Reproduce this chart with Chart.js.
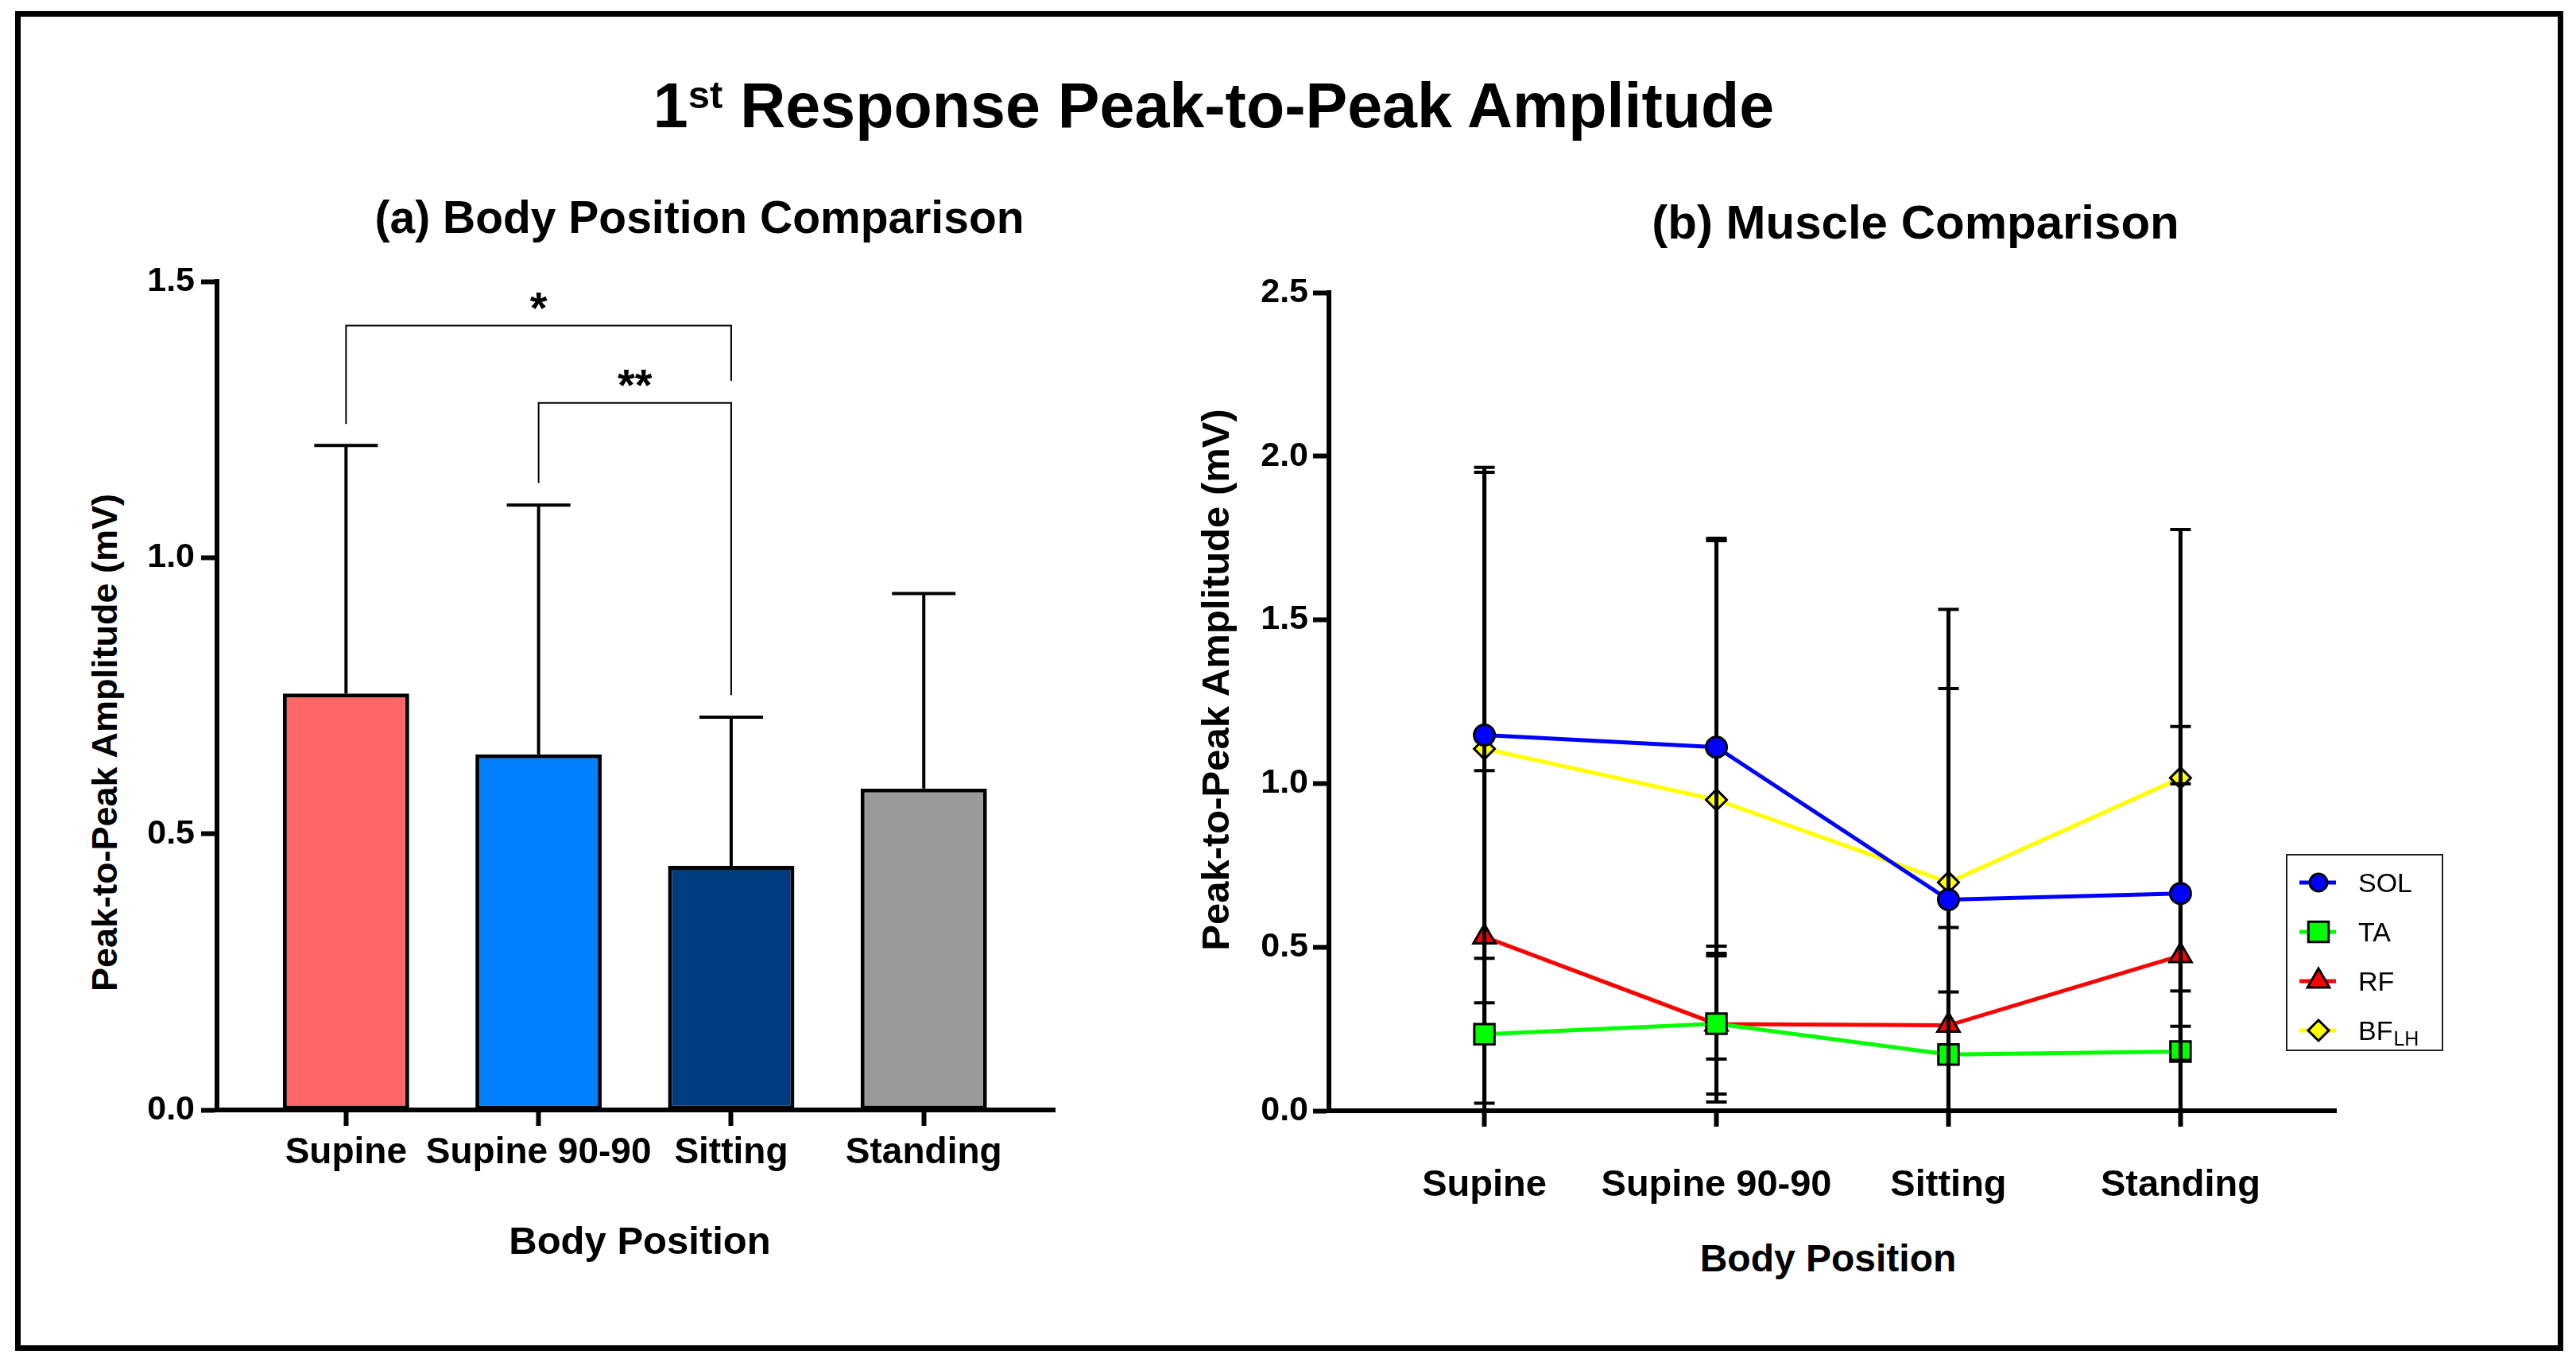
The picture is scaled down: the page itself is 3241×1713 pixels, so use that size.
<!DOCTYPE html>
<html>
<head>
<meta charset="utf-8">
<title>1st Response Peak-to-Peak Amplitude</title>
<script src="https://cdn.jsdelivr.net/npm/chart.js@4.4.1/dist/chart.umd.min.js"></script>
<style>
  html, body { margin: 0; padding: 0; background: #fff; }
  body { width: 3241px; height: 1713px; position: relative; overflow: hidden;
         font-family: "Liberation Sans", Arial, Helvetica, sans-serif; color: #000; }
  .frame { position: absolute; left: 19px; top: 14px; width: 3206px; height: 1685px;
           border: 7px solid #000; box-sizing: border-box; }
  .txt { position: absolute; line-height: 1; white-space: nowrap; font-weight: bold;
         transform: translateX(-50%); }
  .rot { position: absolute; line-height: 1; white-space: nowrap; font-weight: bold;
         transform: translate(-50%, -50%) rotate(-90deg); }
  .txt sup { font-size: 0.62em; position: relative; top: -0.5em; vertical-align: baseline; line-height: 0; }
  .panel { position: absolute; top: 0; height: 1713px; }
</style>
</head>
<body>
<div class="frame"></div>

<div class="txt" style="left:1527px; top:93px; font-size:79px">1<sup>st</sup> Response Peak-to-Peak Amplitude</div>
<div class="txt" style="left:880px; top:245px; font-size:57px">(a) Body Position Comparison</div>
<div class="txt" style="left:2410px; top:250px; font-size:60px">(b) Muscle Comparison</div>

<div class="rot" style="left:131px; top:934px; font-size:45px">Peak-to-Peak Amplitude (mV)</div>
<div class="rot" style="left:1529px; top:855px; font-size:49px">Peak-to-Peak Amplitude (mV)</div>
<div class="txt" style="left:805px; top:1536px; font-size:49px">Body Position</div>
<div class="txt" style="left:2300px; top:1559px; font-size:48px">Body Position</div>

<div class="panel" style="left:0; width:1500px"><canvas id="chart-a"></canvas></div>
<div class="panel" style="left:1500px; width:1741px"><canvas id="chart-b"></canvas></div>

<script>
(function () {
  'use strict';

  // ------------------------------------------------------------- data ----
  const CATEGORIES = ['Supine', 'Supine 90-90', 'Sitting', 'Standing'];

  // (a) mean ± SD per body position, all muscles pooled
  const POSITION_MEAN = [0.754, 0.644, 0.442, 0.582];
  const POSITION_SD = [0.449, 0.451, 0.269, 0.353];
  const Y_TICKS_A = [0, 0.5, 1.0, 1.5];

  // significance brackets: category indices, bar height, leg ends (mV)
  const SIG_FROM = [0, 1];
  const SIG_TO = [2, 2];
  const SIG_LEVEL = [1.42, 1.28];
  const SIG_LEFT_END = [1.242, 1.135];
  const SIG_RIGHT_END = [1.32, 0.751];
  const SIG_LABEL = ['*', '**'];

  // (b) mean ± SD per muscle
  const SOL_MEAN = [1.148, 1.111, 0.645, 0.664];
  const SOL_SD = [0.818, 0.638, 0.645, 0.510];
  const TA_MEAN = [0.234, 0.266, 0.172, 0.181];
  const TA_SD = [0.232, 0.215, 0.191, 0.185];
  const RF_MEAN = [0.531, 0.265, 0.261, 0.474];
  const RF_SD = [0.508, 0.238, 0.299, 0.525];
  const BF_MEAN = [1.106, 0.950, 0.698, 1.017];
  const BF_SD = [0.845, 0.792, 0.834, 0.759];
  const Y_TICKS_B = [0, 0.5, 1.0, 1.5, 2.0, 2.5];

  // ----------------------------------------------------------- styles ----
  const FONT = '"Liberation Sans", Arial, Helvetica, sans-serif';
  const BAR_COLORS = ['#FF6666', '#0080FF', '#003D80', '#999999'];

  const SERIES = [
    { label: 'SOL', sub: '', mean: SOL_MEAN, sd: SOL_SD, color: '#0000FF', style: 'circle', r: 13, lr: 11 },
    { label: 'TA', sub: '', mean: TA_MEAN, sd: TA_SD, color: '#00FF00', style: 'rect', r: 18, lr: 18 },
    { label: 'RF', sub: '', mean: RF_MEAN, sd: RF_SD, color: '#FF0000', style: 'triangle', r: 16, lr: 16 },
    { label: 'BF', sub: 'LH', mean: BF_MEAN, sd: BF_SD, color: '#FFFF00', style: 'rectRot', r: 13, lr: 13 },
  ];

  Chart.defaults.font.family = FONT;
  Chart.defaults.color = '#000';

  const points = arr => arr.map((y, i) => ({ x: i, y }));

  function axes(opts) {
    return {
      x: {
        type: 'linear', min: -0.67, max: opts.xMax, offset: false,
        afterBuildTicks: s => { s.ticks = CATEGORIES.map((_, i) => ({ value: i })); },
        afterFit: s => { s.height = 150; },
        border: { color: '#000', width: 6 },
        grid: { offset: false, drawOnChartArea: false, tickLength: 20, tickWidth: 6, tickColor: '#000' },
        ticks: {
          autoSkip: false, maxRotation: 0, padding: opts.xPad,
          font: { size: opts.xFont, weight: 'bold' },
          callback: v => CATEGORIES[v],
        },
      },
      y: {
        min: 0, max: opts.yTicks[opts.yTicks.length - 1],
        afterBuildTicks: s => { s.ticks = opts.yTicks.map(v => ({ value: v })); },
        afterFit: s => { s.width = opts.yWidth; },
        border: { color: '#000', width: 6 },
        grid: { drawOnChartArea: false, tickLength: 20, tickWidth: 6, tickColor: '#000' },
        ticks: {
          padding: opts.yPad, font: { size: 43, weight: 'bold' },
          callback: v => Number(v).toFixed(1),
        },
      },
    };
  }

  // -------------------------------------------------- (a) bar chart ----
  const barExtras = {
    id: 'barExtras',
    afterDatasetsDraw(chart) {
      const { ctx, scales: { x, y } } = chart;
      ctx.save();
      ctx.strokeStyle = '#000';
      ctx.lineWidth = 4;
      POSITION_MEAN.forEach((m, i) => {
        const px = x.getPixelForValue(i);
        const top = y.getPixelForValue(m + POSITION_SD[i]);
        ctx.beginPath();
        ctx.moveTo(px, y.getPixelForValue(m));
        ctx.lineTo(px, top);
        ctx.moveTo(px - 40, top);
        ctx.lineTo(px + 40, top);
        ctx.stroke();
      });
      ctx.lineWidth = 2;
      ctx.fillStyle = '#000';
      ctx.font = `bold 56px ${FONT}`;
      ctx.textAlign = 'center';
      ctx.textBaseline = 'alphabetic';
      SIG_LABEL.forEach((label, i) => {
        const x1 = x.getPixelForValue(SIG_FROM[i]);
        const x2 = x.getPixelForValue(SIG_TO[i]);
        const yl = y.getPixelForValue(SIG_LEVEL[i]);
        ctx.beginPath();
        ctx.moveTo(x1, y.getPixelForValue(SIG_LEFT_END[i]));
        ctx.lineTo(x1, yl);
        ctx.lineTo(x2, yl);
        ctx.lineTo(x2, y.getPixelForValue(SIG_RIGHT_END[i]));
        ctx.stroke();
        ctx.fillText(label, (x1 + x2) / 2, yl - 4);
      });
      ctx.restore();
    },
  };

  new Chart(document.getElementById('chart-a'), {
    type: 'bar',
    data: {
      datasets: [{
        data: points(POSITION_MEAN),
        backgroundColor: BAR_COLORS,
        borderColor: '#000', borderWidth: 5, borderSkipped: false,
        categoryPercentage: 1, barPercentage: 0.656,
      }],
    },
    options: {
      responsive: true, maintainAspectRatio: false, animation: false, devicePixelRatio: 1,
      layout: { padding: { left: 0, top: 354, right: 173, bottom: 167 } },
      plugins: { legend: { display: false }, tooltip: { enabled: false } },
      scales: axes({ xMax: 3.68, xPad: 7, xFont: 46, yTicks: Y_TICKS_A, yWidth: 273, yPad: 8 }),
    },
    plugins: [barExtras],
  });

  // ------------------------------------------------- (b) line chart ----
  // error bars are drawn right before each series so later series sit on top
  const lineErrors = {
    id: 'lineErrors',
    beforeDatasetDraw(chart, args) {
      const s = SERIES[args.index];
      const { ctx, scales: { x, y } } = chart;
      ctx.save();
      ctx.strokeStyle = '#000';
      s.mean.forEach((m, i) => {
        const px = x.getPixelForValue(i);
        const hiV = m + s.sd[i];
        const loV = m - s.sd[i];
        const yHi = y.getPixelForValue(hiV);
        const yLo = y.getPixelForValue(Math.max(0, loV));
        ctx.lineWidth = 5;
        ctx.beginPath();
        ctx.moveTo(px, yHi);
        ctx.lineTo(px, yLo);
        ctx.stroke();
        ctx.lineWidth = 4;
        ctx.beginPath();
        ctx.moveTo(px - 13, yHi);
        ctx.lineTo(px + 13, yHi);
        if (loV >= 0) {
          ctx.moveTo(px - 13, yLo);
          ctx.lineTo(px + 13, yLo);
        }
        ctx.stroke();
      });
      ctx.restore();
    },
  };

  const muscleLegend = {
    id: 'muscleLegend',
    afterDraw(chart) {
      const { ctx } = chart;
      const L = 1377, T = 1075, W = 196, H = 246;
      ctx.save();
      ctx.strokeStyle = '#222';
      ctx.lineWidth = 2;
      ctx.strokeRect(L, T, W, H);
      SERIES.forEach((s, i) => {
        const cy = T + 35 + i * 62;
        ctx.strokeStyle = s.color;
        ctx.lineWidth = 5;
        ctx.beginPath();
        ctx.moveTo(L + 16, cy);
        ctx.lineTo(L + 62, cy);
        ctx.stroke();
        ctx.fillStyle = s.color;
        ctx.strokeStyle = '#000';
        ctx.lineWidth = 3;
        Chart.helpers.drawPoint(ctx, { pointStyle: s.style, radius: s.lr, borderWidth: 3, rotation: 0 }, L + 40, cy);
        ctx.fillStyle = '#000';
        ctx.textAlign = 'left';
        ctx.textBaseline = 'alphabetic';
        ctx.font = `34px ${FONT}`;
        ctx.fillText(s.label, L + 90, cy + 12);
        if (s.sub) {
          const w = ctx.measureText(s.label).width;
          ctx.font = `25px ${FONT}`;
          ctx.fillText(s.sub, L + 90 + w + 1, cy + 19);
        }
      });
      ctx.restore();
    },
  };

  new Chart(document.getElementById('chart-b'), {
    type: 'line',
    data: {
      datasets: SERIES.map(s => ({
        label: s.label,
        data: points(s.mean),
        borderColor: s.color, borderWidth: 5, tension: 0,
        pointStyle: s.style, pointRadius: s.r, pointBorderWidth: 3,
        pointBackgroundColor: s.color, pointBorderColor: '#000',
      })),
    },
    options: {
      responsive: true, maintainAspectRatio: false, animation: false, devicePixelRatio: 1,
      layout: { padding: { left: 0, top: 368, right: 302, bottom: 166 } },
      plugins: { legend: { display: false }, tooltip: { enabled: false } },
      scales: axes({ xMax: 3.67, xPad: 46, xFont: 47, yTicks: Y_TICKS_B, yWidth: 172, yPad: 6 }),
    },
    plugins: [lineErrors, muscleLegend],
  });
})();
</script>
</body>
</html>
